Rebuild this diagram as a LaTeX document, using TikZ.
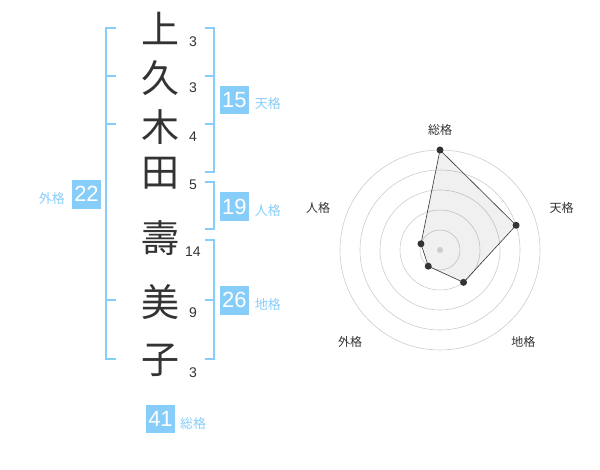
\documentclass[tikz,border=0pt]{standalone}
\usepackage{fontspec}
\setmainfont{Liberation Sans}
\newfontfamily\jpfont{Noto Sans CJK JP}
\usetikzlibrary{positioning, calc}
\definecolor{kskyblue}{HTML}{86CDF9}
\definecolor{kdark}{HTML}{333333}
\definecolor{kgrid}{HTML}{CCCCCC}
\tikzset{
  kanji/.style={font=\jpfont\fontsize{38}{38}\selectfont, text=kdark, inner sep=0pt},
  strokes/.style={font=\fontsize{14}{14}\selectfont, text=kdark, inner sep=0pt},
  kakubox/.style={fill=kskyblue, text=white, minimum width=28.5pt, minimum height=28.5pt,
                  inner sep=0pt, font=\fontsize{22}{22}\selectfont},
  kakulbl/.style={font=\jpfont\fontsize{13}{13}\selectfont, text=kskyblue, inner sep=0pt},
  radarlbl/.style={font=\jpfont\fontsize{12}{12}\selectfont, text=kdark, inner sep=0pt},
  bracket/.style={draw=kskyblue, line width=2pt},
  ring/.style={draw=kgrid, line width=0.6pt},
  dot/.style={fill=kdark},
}
\begin{document}
\begin{tikzpicture}[x=1pt, y=-1pt]
  \useasboundingbox (0,0) rectangle (600,470);

  % name characters and stroke counts
  \node[kanji] (c1) at (160,28) {上};
  \node[kanji] (c2) at (160,78) {久};
  \node[kanji] (c3) at (160,127) {木};
  \node[kanji] (c4) at (160,173) {田};
  \node[kanji] (c5) at (160,238) {壽};
  \node[kanji] (c6) at (160,302) {美};
  \node[kanji] (c7) at (160,360) {子};
  \node[strokes] (n1) at (193,42) {3};
  \node[strokes] (n2) at (193,88) {3};
  \node[strokes] (n3) at (193,137) {4};
  \node[strokes] (n4) at (193,185) {5};
  \node[strokes] (n5) at (193,252) {14};
  \node[strokes] (n6) at (193,313) {9};
  \node[strokes] (n7) at (193,373) {3};

  % outer bracket (gaikaku)
  \draw[bracket] (116,28) -| (106,359) -- (116,359);
  \foreach \y in {76,124,300}
    \draw[bracket] (106,\y) -- (116,\y);

  % right brackets
  \draw[bracket] (205,28) -| (214,172) -- (205,172);
  \foreach \y in {76,124}
    \draw[bracket] (205,\y) -- (214,\y);
  \draw[bracket] (205,182) -| (214,229) -- (205,229);
  \draw[bracket] (205,240) -| (214,359) -- (205,359);
  \draw[bracket] (205,300) -- (214,300);

  % kaku values
  \node[kakubox] (ten) at (234.3,100) {15};
  \node[kakulbl, right=6pt of ten, yshift=-4pt] (tenlbl) {天格};
  \node[kakubox] (jin) at (234.3,206.5) {19};
  \node[kakulbl, right=6pt of jin, yshift=-4pt] (jinlbl) {人格};
  \node[kakubox] (chi) at (234.3,300.3) {26};
  \node[kakulbl, right=6pt of chi, yshift=-4pt] (chilbl) {地格};
  \node[kakubox] (gai) at (86.5,194.3) {22};
  \node[kakulbl, left=7pt of gai, yshift=-4pt] (gailbl) {外格};
  \node[kakubox] (sou) at (160.5,419.2) {41};
  \node[kakulbl, right=5pt of sou, yshift=-4pt] (soulbl) {総格};

  % radar chart
  \begin{scope}[shift={(440,250)}, y=1pt]
    \foreach \r in {20,40,60,80,100}
      \draw[ring] (0,0) circle (\r pt);
    \coordinate (p1) at (90:100);
    \coordinate (p2) at (18:80);
    \coordinate (p3) at (-54:40);
    \coordinate (p4) at (-126:20);
    \coordinate (p5) at (162:20);
    \filldraw[fill=black, fill opacity=0.06, draw=kdark, line width=0.6pt]
      (p1) -- (p2) -- (p3) -- (p4) -- (p5) -- cycle;
    \fill[kgrid] (0,0) circle (3pt);
    \foreach \p in {p1,p2,p3,p4,p5}
      \fill[dot] (\p) circle (3.5pt);
    \node[radarlbl] (rsou) at (0,120) {総格};
    \node[radarlbl] (rten) at (121.7,41.7) {天格};
    \node[radarlbl] (rchi) at (83.3,-91.7) {地格};
    \node[radarlbl] (rgai) at (-90,-91.7) {外格};
    \node[radarlbl] (rjin) at (-122,42) {人格};
  \end{scope}
\end{tikzpicture}
\end{document}
